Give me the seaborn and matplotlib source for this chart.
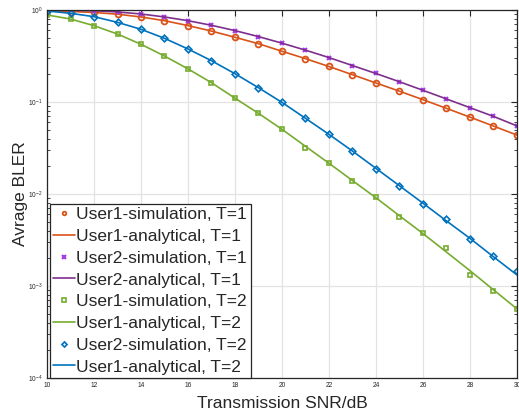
import matplotlib
matplotlib.use("Agg")
import matplotlib.pyplot as plt
import matplotlib.ticker as mticker
import numpy as np
import pandas as pd
import seaborn as sns

# SNR grid (dB)
snr = list(range(10, 31))

# User1, T=1
u1_t1_sim = [0.983, 0.962, 0.942, 0.899, 0.839, 0.765, 0.676, 0.591, 0.505, 0.430, 0.356,
             0.297, 0.244, 0.197, 0.161, 0.131, 0.105, 0.0850, 0.0680, 0.0546, 0.0435]
u1_t1_ana = [0.982, 0.964, 0.940, 0.900, 0.840, 0.765, 0.677, 0.590, 0.505, 0.430, 0.356,
             0.296, 0.243, 0.198, 0.161, 0.131, 0.106, 0.0853, 0.0685, 0.0548, 0.0437]
# User2, T=1
u2_t1_sim = [0.997, 0.993, 0.984, 0.951, 0.905, 0.839, 0.765, 0.682, 0.596, 0.513, 0.435,
             0.367, 0.303, 0.248, 0.205, 0.166, 0.134, 0.108, 0.0867, 0.0700, 0.0548]
u2_t1_ana = [0.997, 0.992, 0.982, 0.952, 0.905, 0.840, 0.765, 0.682, 0.597, 0.514, 0.436,
             0.366, 0.304, 0.249, 0.204, 0.166, 0.134, 0.108, 0.0868, 0.0698, 0.0550]
# User1, T=2
u1_t2_sim = [0.883, 0.798, 0.675, 0.548, 0.424, 0.316, 0.229, 0.162, 0.110, 0.0753, 0.0505,
             0.0319, 0.0219, 0.0138, 0.00927, 0.00557, 0.00373, 0.00261, 0.00131, 0.00089, 0.000562]
u1_t2_ana = [0.883, 0.798, 0.675, 0.548, 0.424, 0.316, 0.229, 0.162, 0.110, 0.0753, 0.0505,
             0.0330, 0.0216, 0.0140, 0.00910, 0.00580, 0.00372, 0.00234, 0.00147, 0.00091, 0.000565]
# User2, T=2
u2_t2_sim = [0.975, 0.920, 0.846, 0.734, 0.617, 0.492, 0.377, 0.281, 0.203, 0.143, 0.0990,
             0.0665, 0.0445, 0.0293, 0.0188, 0.0123, 0.00785, 0.00535, 0.00321, 0.00213, 0.00147]
u2_t2_ana = [0.975, 0.920, 0.846, 0.734, 0.617, 0.492, 0.377, 0.281, 0.203, 0.143, 0.0990,
             0.0665, 0.0445, 0.0293, 0.0190, 0.0123, 0.00795, 0.00510, 0.00330, 0.00208, 0.00132]

x_ticks = list(range(10, 31, 2))
y_ticks = [1e-4, 1e-3, 1e-2, 1e-1, 1e0]

c_orange = "#D95319"
c_purple = "#7E2F8E"
c_violet = "#A93CE8"
c_green = "#77AC30"
c_blue = "#0072BD"

sns.set_theme(style="white")
plt.rcParams["font.family"] = ["Liberation Sans", "DejaVu Sans"]
plt.rcParams["mathtext.fontset"] = "custom"
plt.rcParams["mathtext.rm"] = "Liberation Sans"
plt.rcParams["mathtext.it"] = "Liberation Sans"

fig = plt.figure(figsize=(5.19, 4.13), dpi=100)
ax = fig.add_axes([0.0906, 0.0847, 0.9054, 0.8911])

def sim(y, label, color, marker, ms, mew):
    sns.lineplot(x=snr, y=y, ax=ax, label=label, color=color, linestyle="none",
                 marker=marker, markersize=ms, markerfacecolor="none",
                 markeredgecolor=color, markeredgewidth=mew)

def ana(y, label, color):
    sns.lineplot(x=snr, y=y, ax=ax, label=label, color=color, linewidth=1.2)

sim(u1_t1_sim, "User1-simulation, T=1", c_orange, "o", 4.2, 1.3)
ana(u1_t1_ana, "User1-analytical, T=1", c_orange)
sim(u2_t1_sim, "User2-simulation, T=1", c_violet, "x", 2.8, 1.5)
ana(u2_t1_ana, "User2-analytical, T=1", c_purple)
sim(u1_t2_sim, "User1-simulation, T=2", c_green, "s", 3.4, 1.2)
ana(u1_t2_ana, "User1-analytical, T=2", c_green)
sim(u2_t2_sim, "User2-simulation, T=2", c_blue, "D", 3.4, 1.2)
ana(u2_t2_ana, "User1-analytical, T=2", c_blue)

ax.set_yscale("log")
ax.set_xlim(10, 30)
ax.set_ylim(1e-4, 1)
ax.set_xticks(x_ticks)
ax.set_xticklabels([str(t) for t in x_ticks])
ax.set_yticks(y_ticks)
ax.set_yticklabels([r"$10^{%d}$" % int(np.log10(v)) for v in y_ticks])
ax.yaxis.set_minor_locator(mticker.LogLocator(base=10, subs=np.arange(2, 10)))
ax.yaxis.set_minor_formatter(mticker.NullFormatter())

ax.grid(True, which="major", color="#e3e3e3", linewidth=0.9)
ax.set_axisbelow(True)
ax.tick_params(axis="both", which="major", direction="in", length=4, width=0.8,
               labelsize=4.8, colors="#262626", top=True, right=True, pad=3)
ax.tick_params(axis="y", which="minor", direction="in", length=2.2, width=0.6,
               left=True, right=True, colors="#262626")
for s in ax.spines.values():
    s.set_color("#262626")
    s.set_linewidth(0.9)

ax.set_xlabel("Transmission SNR/dB", fontsize=12.5, color="#262626", labelpad=5)
ax.set_ylabel("Avrage BLER", fontsize=12.5, color="#262626", labelpad=0)

leg = ax.legend(loc="lower left", bbox_to_anchor=(0.006, 0.0), fontsize=12.5,
                frameon=True, fancybox=False, framealpha=1.0, edgecolor="#262626",
                borderpad=0.2, labelspacing=0.38, handlelength=1.25,
                handletextpad=0.08, borderaxespad=0.0)
leg.get_frame().set_linewidth(0.9)
for h in leg.legend_handles:
    h.set_markersize(2.6)

fig.savefig("out.png", dpi=100)
